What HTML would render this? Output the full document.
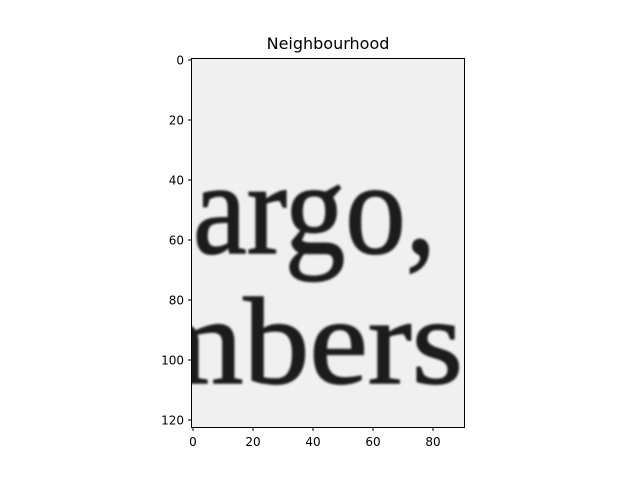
<!DOCTYPE html>
<html><head><meta charset="utf-8"><style>body{margin:0;background:#fff}svg{display:block}</style></head>
<body>
<svg width="640" height="480" viewBox="0 0 640 480" font-family="'DejaVu Sans','Liberation Sans',sans-serif">
<defs><clipPath id="c"><rect x="191.5" y="58.5" width="273" height="369"/></clipPath>
<filter id="blur"><feGaussianBlur stdDeviation="1"/></filter></defs>
<text x="328" y="49" font-size="16" text-anchor="middle" fill="#000">Neighbourhood</text>
<g clip-path="url(#c)">
<rect x="191.5" y="58.5" width="273" height="369" fill="#f0f0f0"/>
<g filter="url(#blur)" fill="#1c1c1c" stroke="#1c1c1c" stroke-width="1.5" font-family="'Liberation Serif',serif">
<text x="193" y="253" font-size="132" textLength="243" lengthAdjust="spacingAndGlyphs">argo,</text>
<text x="141" y="383" font-size="124" textLength="322" lengthAdjust="spacingAndGlyphs">mbers</text>
</g>
</g>
<rect x="191.5" y="58.5" width="273" height="369" fill="none" stroke="#000" stroke-width="1"/>
<g id="ticks" font-size="12" fill="#000"></g>
<script>
const xTicks=[0,20,40,60,80];
const yTicks=[0,20,40,60,80,100,120];
const g=document.getElementById('ticks');
const ns='http://www.w3.org/2000/svg';
const xs=v=>191.5+(v+0.5)*3, ys=v=>58.5+(v+0.5)*3;
xTicks.forEach(v=>{const l=document.createElementNS(ns,'line');


l.setAttribute('x1',xs(v));l.setAttribute('x2',xs(v));l.setAttribute('y1',427.5);l.setAttribute('y2',431);l.setAttribute('stroke','#000');g.appendChild(l);
const t=document.createElementNS(ns,'text');


t.setAttribute('x',xs(v));t.setAttribute('y',446);t.setAttribute('text-anchor','middle');t.textContent=v;g.appendChild(t);});
yTicks.forEach(v=>{const l=document.createElementNS(ns,'line');


l.setAttribute('x1',188);l.setAttribute('x2',191.5);l.setAttribute('y1',ys(v));l.setAttribute('y2',ys(v));l.setAttribute('stroke','#000');g.appendChild(l);
const t=document.createElementNS(ns,'text');


t.setAttribute('x',184);t.setAttribute('y',ys(v)+4.5);t.setAttribute('text-anchor','end');t.textContent=v;g.appendChild(t);});
</script>
</svg>
</body></html>
